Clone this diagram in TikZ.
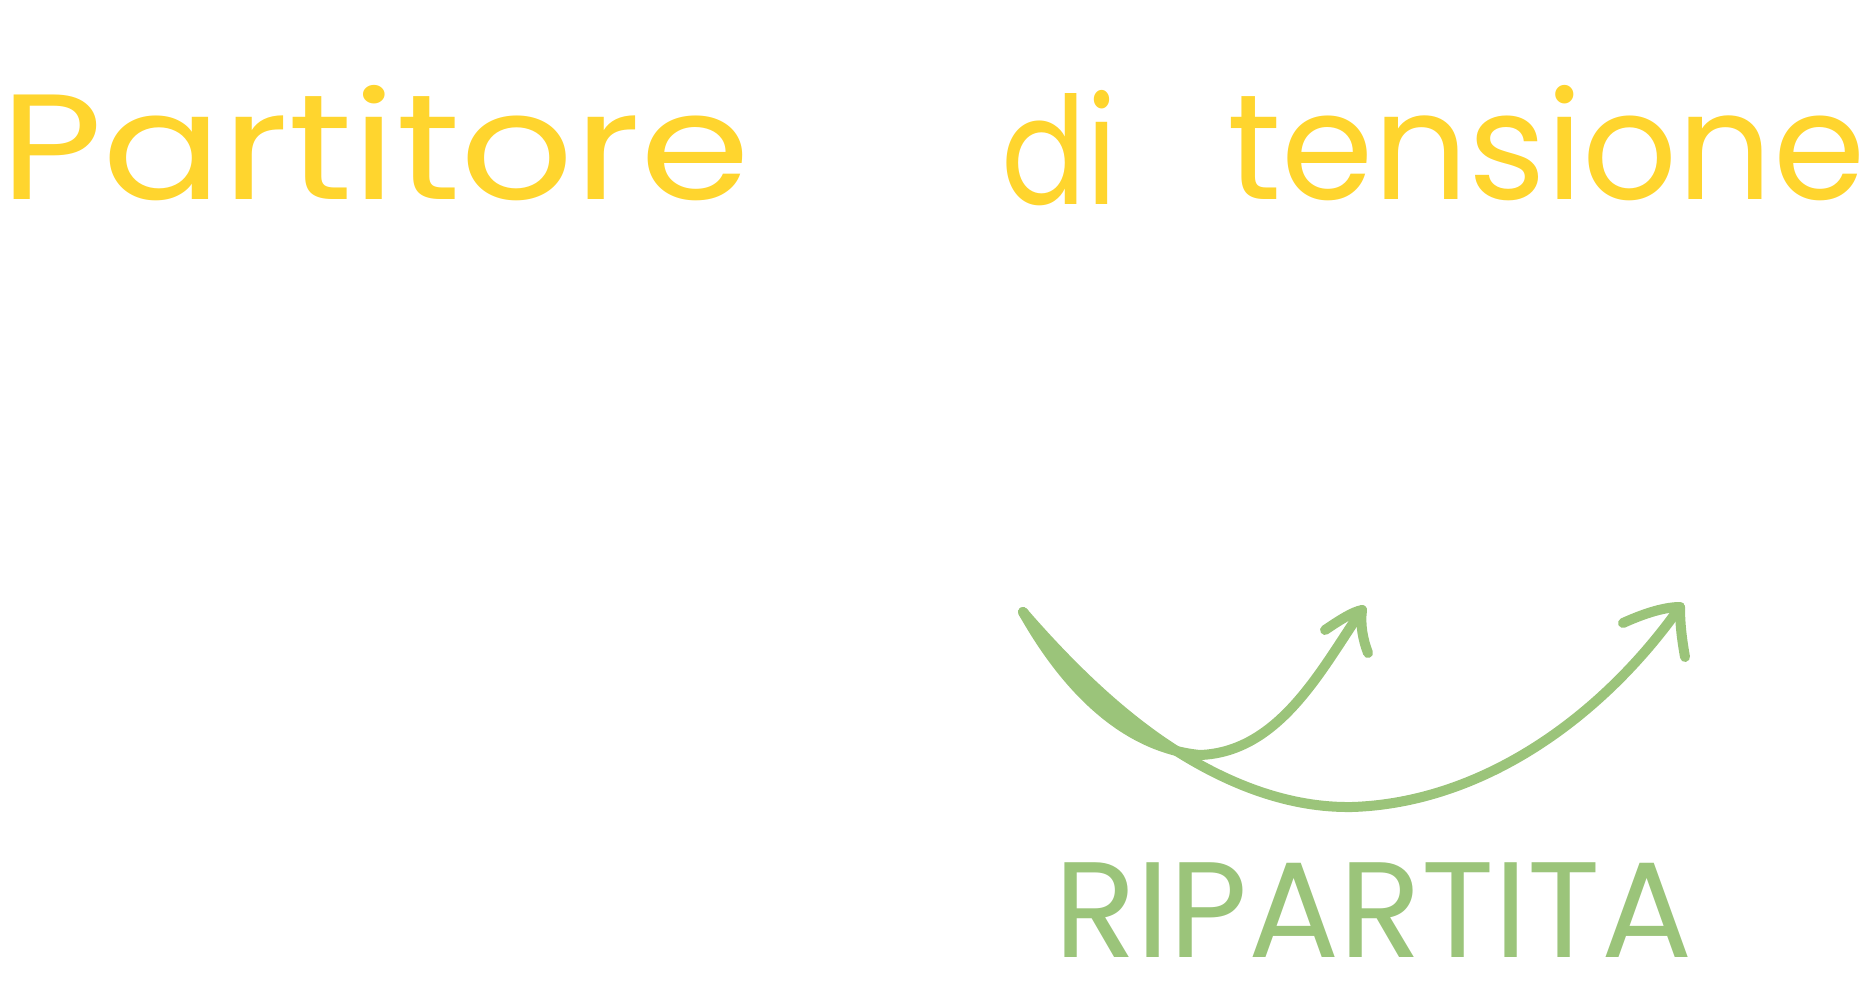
\documentclass[tikz,border=0pt]{standalone}
\usepackage{fontspec}
\setmainfont{Poppins}
\definecolor{hwyellow}{HTML}{FFD52E}
\definecolor{hwgreen}{HTML}{9BC47A}
\begin{document}
\begin{tikzpicture}[x=1pt,y=-1pt,
  ytext/.style={text=hwyellow, inner sep=0pt, anchor=base west},
  gtext/.style={text=hwgreen, inner sep=0pt, anchor=base west},
  hw/.style={draw=hwgreen, line width=10pt, line cap=round, line join=round}]
\useasboundingbox (0,0) rectangle (1868,1000);
% yellow title
\node[ytext] (partitore) at (0,200) {\resizebox{750pt}{\height}{\fontsize{150pt}{150pt}\selectfont Partitore}};
\node[ytext] (di) at (1001,205) {\resizebox{116pt}{\height}{\fontsize{150pt}{150pt}\selectfont di}};
\node[ytext] (tensione) at (1227,200) {\resizebox{638pt}{\height}{\fontsize{150pt}{150pt}\selectfont tensione}};
% green label
\node[gtext] (ripartita) at (1054,957) {\resizebox{638pt}{\height}{\fontsize{136pt}{136pt}\selectfont RIPARTITA}};
% arrows
\coordinate (s) at (1023,612);
\coordinate (m) at (1175,750);
\coordinate (t1) at (1362,610);
\coordinate (t2) at (1680,607);
\coordinate (b1l) at (1325,630);
\coordinate (b1r) at (1368,653);
\coordinate (b2l) at (1623,623);
\coordinate (b2r) at (1685,657);
\draw[hw] (s) .. controls (1068,692) and (1127,748) .. (1200,755) .. controls (1280,752) and (1322,668) .. (t1);
\draw[hw] (s) .. controls (1072,682) and (1126,733) .. (m);
\draw[hw] (s) .. controls (1075,672) and (1125,718) .. (m) .. controls (1230,785) and (1290,808) .. (1352,807) .. controls (1480,803) and (1600,720) .. (t2);
\draw[hw] (b1l) .. controls (1340,620) and (1352,612) .. (t1) .. controls (1360,625) and (1363,640) .. (b1r);
\draw[hw] (b2l) .. controls (1645,613) and (1665,607) .. (t2) .. controls (1680,625) and (1682,640) .. (b2r);
\end{tikzpicture}
\end{document}
